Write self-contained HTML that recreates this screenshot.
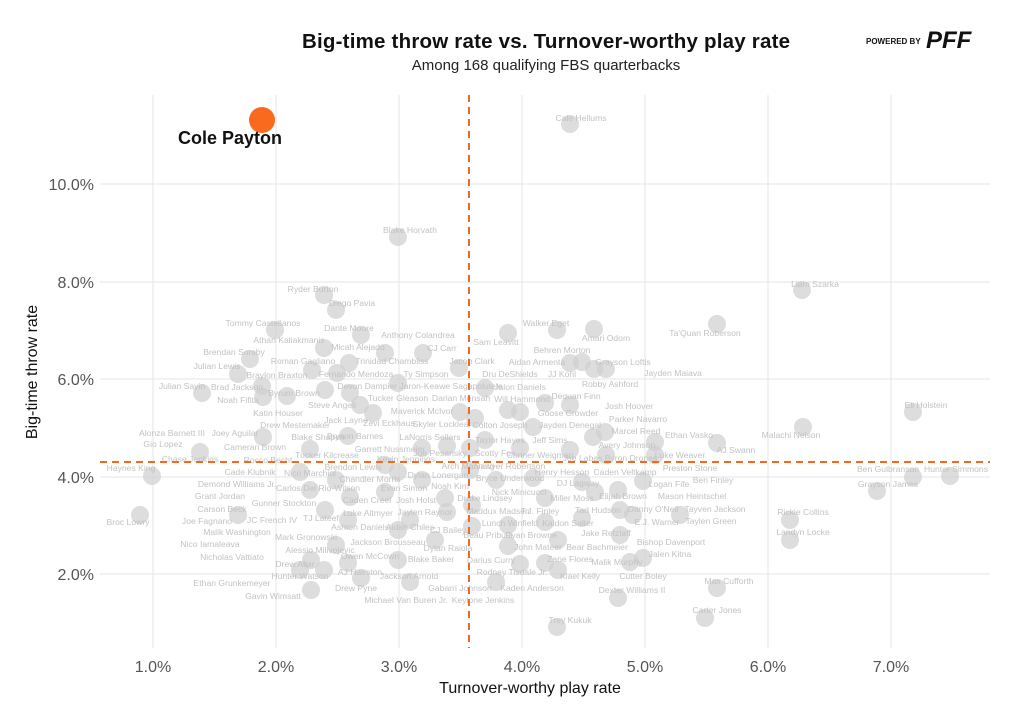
<!DOCTYPE html>
<html><head><meta charset="utf-8"><style>
body{margin:0;background:#fff;width:1024px;height:717px;overflow:hidden;font-family:"Liberation Sans",sans-serif}
svg text{font-family:"Liberation Sans",sans-serif}
.l{font-size:8.6px;fill:#c2c2c2;text-anchor:middle}
.t{font-size:16px;fill:#555}
</style></head><body>
<svg width="1024" height="717" viewBox="0 0 1024 717">
<text x="546" y="48" text-anchor="middle" font-size="20.5" font-weight="bold" fill="#111" textLength="488">Big-time throw rate vs. Turnover-worthy play rate</text>
<text x="546" y="70" text-anchor="middle" font-size="15" fill="#222">Among 168 qualifying FBS quarterbacks</text>
<text x="866" y="44" font-size="8" font-weight="bold" fill="#111">POWERED BY</text>
<text x="926" y="48" font-size="24" font-weight="900" font-style="italic" fill="#111">PFF</text>
<g stroke="#e6e6e6" stroke-width="1">
<line x1="153" y1="95" x2="153" y2="648"/><line x1="276" y1="95" x2="276" y2="648"/><line x1="399" y1="95" x2="399" y2="648"/><line x1="522" y1="95" x2="522" y2="648"/><line x1="645" y1="95" x2="645" y2="648"/><line x1="768" y1="95" x2="768" y2="648"/><line x1="891" y1="95" x2="891" y2="648"/>
<line x1="100" y1="184" x2="990" y2="184"/><line x1="100" y1="282" x2="990" y2="282"/><line x1="100" y1="379" x2="990" y2="379"/><line x1="100" y1="477" x2="990" y2="477"/><line x1="100" y1="574" x2="990" y2="574"/>
</g>
<g class="t" text-anchor="middle">
<text x="153" y="672">1.0%</text><text x="276" y="672">2.0%</text><text x="399" y="672">3.0%</text><text x="522" y="672">4.0%</text><text x="645" y="672">5.0%</text><text x="768" y="672">6.0%</text><text x="891" y="672">7.0%</text>
</g>
<g class="t" text-anchor="end">
<text x="94" y="190">10.0%</text><text x="94" y="288">8.0%</text><text x="94" y="385">6.0%</text><text x="94" y="483">4.0%</text><text x="94" y="580">2.0%</text>
</g>
<text x="530" y="693" text-anchor="middle" font-size="16" fill="#111">Turnover-worthy play rate</text>
<text transform="translate(37,372) rotate(-90)" text-anchor="middle" font-size="16" fill="#111">Big-time throw rate</text>
<g fill="#cfcfcf" fill-opacity="0.7">
<circle cx="570" cy="124" r="9"/><circle cx="398" cy="237" r="9"/><circle cx="802" cy="290" r="9"/><circle cx="324" cy="295" r="9"/><circle cx="336" cy="310" r="9"/><circle cx="275" cy="330" r="9"/><circle cx="361" cy="335" r="9"/><circle cx="508" cy="333" r="9"/><circle cx="557" cy="330" r="9"/><circle cx="594" cy="329" r="9"/><circle cx="717" cy="324" r="9"/><circle cx="324" cy="348" r="9"/><circle cx="423" cy="353" r="9"/><circle cx="385" cy="353" r="9"/><circle cx="250" cy="359" r="9"/><circle cx="349" cy="363" r="9"/><circle cx="570" cy="363" r="9"/><circle cx="582" cy="362" r="9"/><circle cx="594" cy="369" r="9"/><circle cx="606" cy="369" r="9"/><circle cx="459" cy="368" r="9"/><circle cx="238" cy="374" r="9"/><circle cx="312" cy="370" r="9"/><circle cx="337" cy="373" r="9"/><circle cx="398" cy="383" r="9"/><circle cx="202" cy="393" r="9"/><circle cx="262" cy="386" r="9"/><circle cx="287" cy="396" r="9"/><circle cx="263" cy="397" r="9"/><circle cx="325" cy="390" r="9"/><circle cx="350" cy="393" r="9"/><circle cx="485" cy="388" r="9"/><circle cx="360" cy="405" r="9"/><circle cx="373" cy="413" r="9"/><circle cx="460" cy="412" r="9"/><circle cx="475" cy="418" r="9"/><circle cx="508" cy="410" r="9"/><circle cx="520" cy="412" r="9"/><circle cx="545" cy="403" r="9"/><circle cx="570" cy="405" r="9"/><circle cx="533" cy="427" r="9"/><circle cx="593" cy="437" r="9"/><circle cx="605" cy="432" r="9"/><circle cx="655" cy="442" r="9"/><circle cx="717" cy="443" r="9"/><circle cx="803" cy="427" r="9"/><circle cx="913" cy="412" r="9"/><circle cx="263" cy="437" r="9"/><circle cx="348" cy="436" r="9"/><circle cx="310" cy="449" r="9"/><circle cx="200" cy="452" r="9"/><circle cx="422" cy="448" r="9"/><circle cx="447" cy="446" r="9"/><circle cx="470" cy="448" r="9"/><circle cx="485" cy="440" r="9"/><circle cx="520" cy="448" r="9"/><circle cx="570" cy="450" r="9"/><circle cx="606" cy="455" r="9"/><circle cx="655" cy="455" r="9"/><circle cx="152" cy="476" r="9"/><circle cx="300" cy="472" r="9"/><circle cx="336" cy="480" r="9"/><circle cx="385" cy="465" r="9"/><circle cx="398" cy="472" r="9"/><circle cx="422" cy="480" r="9"/><circle cx="470" cy="470" r="9"/><circle cx="496" cy="480" r="9"/><circle cx="533" cy="478" r="9"/><circle cx="582" cy="482" r="9"/><circle cx="595" cy="492" r="9"/><circle cx="643" cy="481" r="9"/><circle cx="618" cy="490" r="9"/><circle cx="913" cy="477" r="9"/><circle cx="950" cy="476" r="9"/><circle cx="877" cy="491" r="9"/><circle cx="310" cy="490" r="9"/><circle cx="350" cy="497" r="9"/><circle cx="385" cy="492" r="9"/><circle cx="445" cy="498" r="9"/><circle cx="472" cy="505" r="9"/><circle cx="545" cy="498" r="9"/><circle cx="620" cy="510" r="9"/><circle cx="238" cy="515" r="9"/><circle cx="325" cy="510" r="9"/><circle cx="348" cy="520" r="9"/><circle cx="410" cy="520" r="9"/><circle cx="447" cy="512" r="9"/><circle cx="472" cy="526" r="9"/><circle cx="508" cy="525" r="9"/><circle cx="545" cy="522" r="9"/><circle cx="582" cy="518" r="9"/><circle cx="633" cy="515" r="9"/><circle cx="680" cy="515" r="9"/><circle cx="790" cy="520" r="9"/><circle cx="140" cy="515" r="9"/><circle cx="790" cy="540" r="9"/><circle cx="336" cy="545" r="9"/><circle cx="398" cy="530" r="9"/><circle cx="435" cy="540" r="9"/><circle cx="508" cy="546" r="9"/><circle cx="558" cy="540" r="9"/><circle cx="620" cy="535" r="9"/><circle cx="311" cy="560" r="9"/><circle cx="348" cy="563" r="9"/><circle cx="398" cy="560" r="9"/><circle cx="520" cy="564" r="9"/><circle cx="545" cy="563" r="9"/><circle cx="558" cy="570" r="9"/><circle cx="630" cy="562" r="9"/><circle cx="643" cy="558" r="9"/><circle cx="300" cy="570" r="9"/><circle cx="324" cy="570" r="9"/><circle cx="410" cy="582" r="9"/><circle cx="496" cy="582" r="9"/><circle cx="361" cy="578" r="9"/><circle cx="717" cy="588" r="9"/><circle cx="618" cy="598" r="9"/><circle cx="311" cy="590" r="9"/><circle cx="705" cy="618" r="9"/><circle cx="557" cy="627" r="9"/>
</g>
<g class="l">
<text x="581" y="121">Cale Hellums</text><text x="410" y="233">Blake Horvath</text><text x="815" y="287">Liam Szarka</text><text x="313" y="292">Ryder Burton</text><text x="352" y="306">Diego Pavia</text><text x="263" y="326">Tommy Castellanos</text><text x="349" y="331">Dante Moore</text><text x="546" y="326">Walker Eget</text><text x="606" y="341">Amari Odom</text><text x="705" y="336">Ta'Quan Roberson</text><text x="289" y="343">Athan Kaliakmanis</text><text x="418" y="338">Anthony Colandrea</text><text x="442" y="351">CJ Carr</text><text x="358" y="350">Micah Alejado</text><text x="496" y="345">Sam Leavitt</text><text x="234" y="355">Brendan Sorsby</text><text x="303" y="364">Roman Gagliano</text><text x="392" y="364">Trinidad Chambliss</text><text x="562" y="353">Behren Morton</text><text x="537" y="365">Aidan Armenta</text><text x="623" y="365">Grayson Loftis</text><text x="472" y="364">Jacob Clark</text><text x="217" y="369">Julian Lewis</text><text x="277" y="378">Braylon Braxton</text><text x="356" y="377">Fernando Mendoza</text><text x="426" y="377">Ty Simpson</text><text x="510" y="377">Dru DeShields</text><text x="562" y="377">JJ Kohl</text><text x="673" y="376">Jayden Maiava</text><text x="182" y="389">Julian Sayin</text><text x="237" y="390">Brad Jackson</text><text x="294" y="396">Byrum Brown</text><text x="420" y="389">Devon Dampier Jaron-Keawe Sagapolutele</text><text x="520" y="390">Jalon Daniels</text><text x="610" y="387">Robby Ashford</text><text x="238" y="403">Noah Fifita</text><text x="398" y="401">Tucker Gleason</text><text x="461" y="401">Darian Mensah</text><text x="522" y="402">Will Hammond</text><text x="576" y="399">Dequan Finn</text><text x="332" y="408">Steve Angeli</text><text x="422" y="414">Maverick McIvor</text><text x="629" y="409">Josh Hoover</text><text x="278" y="416">Katin Houser</text><text x="568" y="416">Goose Crowder</text><text x="346" y="423">Jack Layne</text><text x="389" y="426">Zevi Eckhaus</text><text x="442" y="427">Skyler Locklear</text><text x="500" y="428">Colton Joseph</text><text x="570" y="428">Jayden Denegal</text><text x="638" y="422">Parker Navarro</text><text x="636" y="434">Marcel Reed</text><text x="689" y="438">Ethan Vasko</text><text x="791" y="438">Malachi Nelson</text><text x="926" y="408">Eli Holstein</text><text x="295" y="428">Drew Mestemaker</text><text x="172" y="436">Alonza Barnett III</text><text x="235" y="436">Joey Aguilar</text><text x="318" y="440">Blake Shapen</text><text x="355" y="439">Bryson Barnes</text><text x="430" y="440">LaNorris Sellers</text><text x="500" y="443">Taylor Hayes</text><text x="550" y="443">Jeff Sims</text><text x="627" y="448">Avery Johnson</text><text x="736" y="453">AJ Swann</text><text x="163" y="447">Gio Lopez</text><text x="255" y="450">Cameran Brown</text><text x="190" y="462">Chase Jenkins</text><text x="268" y="463">Rocco Becht</text><text x="327" y="458">Tucker Kilcrease</text><text x="390" y="452">Garrett Nussmeier</text><text x="440" y="456">Joe Pesansky</text><text x="495" y="456">Scotty Fox</text><text x="406" y="462">Kevin Jennings</text><text x="540" y="458">Conner Weigman</text><text x="610" y="461">Joe Labas Byron Drones</text><text x="680" y="458">Luke Weaver</text><text x="131" y="471">Haynes King</text><text x="250" y="475">Cade Klubnik</text><text x="310" y="476">Nico Marchiol</text><text x="353" y="470">Brendon Lewis</text><text x="468" y="469">Arch Manning</text><text x="510" y="469">Sawyer Robertson</text><text x="562" y="475">Henry Hesson</text><text x="625" y="475">Caden Veltkamp</text><text x="690" y="471">Preston Stone</text><text x="888" y="472">Ben Gulbranson</text><text x="956" y="472">Hunter Simmons</text><text x="438" y="478">Dylan Lonergan</text><text x="370" y="482">Chandler Morris</text><text x="510" y="481">Bryce Underwood</text><text x="669" y="487">Logan Fife</text><text x="713" y="483">Ben Finley</text><text x="888" y="487">Grayson James</text><text x="237" y="487">Demond Williams Jr.</text><text x="318" y="491">Carlos Del Rio-Wilson</text><text x="404" y="491">Evan Simon</text><text x="450" y="489">Noah Kim</text><text x="578" y="486">DJ Lagway</text><text x="519" y="495">Nick Minicucci</text><text x="623" y="499">Elijah Brown</text><text x="572" y="501">Miller Moss</text><text x="692" y="499">Mason Heintschel</text><text x="220" y="499">Grant Jordan</text><text x="367" y="503">Caden Creel</text><text x="416" y="503">Josh Holst</text><text x="485" y="501">Drake Lindsey</text><text x="284" y="506">Gunner Stockton</text><text x="222" y="512">Carson Beck</text><text x="368" y="516">Luke Altmyer</text><text x="425" y="515">Jaylen Raynor</text><text x="498" y="514">Maddux Madsen</text><text x="540" y="514">T.J. Finley</text><text x="598" y="513">Tad Hudson</text><text x="653" y="512">Danny O'Neil</text><text x="715" y="512">Tayven Jackson</text><text x="803" y="515">Rickie Collins</text><text x="207" y="524">Joe Fagnano</text><text x="272" y="523">JC French IV</text><text x="321" y="521">TJ Lateef</text><text x="510" y="526">Lunch Winfield</text><text x="568" y="526">Kaidon Salter</text><text x="657" y="525">E.J. Warner</text><text x="711" y="524">Taylen Green</text><text x="128" y="525">Broc Lowry</text><text x="803" y="535">Landyn Locke</text><text x="237" y="535">Malik Washington</text><text x="360" y="530">Ashton Daniels</text><text x="410" y="530">Aidan Chiles</text><text x="448" y="533">CJ Bailey</text><text x="488" y="538">Beau Pribula</text><text x="531" y="538">Ryan Browne</text><text x="606" y="536">Jake Retzlaff</text><text x="306" y="540">Mark Gronowski</text><text x="388" y="545">Jackson Brousseau</text><text x="448" y="551">Dylan Raiola</text><text x="671" y="545">Bishop Davenport</text><text x="210" y="547">Nico Iamaleava</text><text x="320" y="553">Alessio Milivojevic</text><text x="370" y="559">Owen McCown</text><text x="431" y="562">Blake Baker</text><text x="538" y="550">John Mateer</text><text x="597" y="550">Bear Bachmeier</text><text x="670" y="557">Jalen Kitna</text><text x="232" y="560">Nicholas Vattiato</text><text x="491" y="563">Darius Curry</text><text x="570" y="562">Zane Flores</text><text x="617" y="565">Malik Murphy</text><text x="295" y="567">Drew Allar</text><text x="360" y="575">AJ Hairston</text><text x="300" y="579">Hunter Watson</text><text x="409" y="579">Jackson Arnold</text><text x="512" y="575">Rodney Tisdale Jr.</text><text x="580" y="579">Kiael Kelly</text><text x="643" y="579">Cutter Boley</text><text x="729" y="584">Max Cufforth</text><text x="232" y="586">Ethan Grunkemeyer</text><text x="356" y="591">Drew Pyne</text><text x="460" y="591">Gabarri Johnson</text><text x="532" y="591">Kaden Anderson</text><text x="632" y="593">Dexter Williams II</text><text x="273" y="599">Gavin Wimsatt</text><text x="406" y="603">Michael Van Buren Jr.</text><text x="483" y="603">Keylone Jenkins</text><text x="717" y="613">Carter Jones</text><text x="570" y="623">Trey Kukuk</text>
</g>
<g stroke="#f26a21" stroke-width="2" stroke-dasharray="7,5">
<line x1="469" y1="95" x2="469" y2="648"/>
<line x1="100" y1="462" x2="990" y2="462"/>
</g>
<circle cx="262" cy="120" r="13" fill="#fa6a1e"/>
<text x="178" y="144" font-size="18" font-weight="bold" fill="#111">Cole Payton</text>
</svg>
</body></html>
